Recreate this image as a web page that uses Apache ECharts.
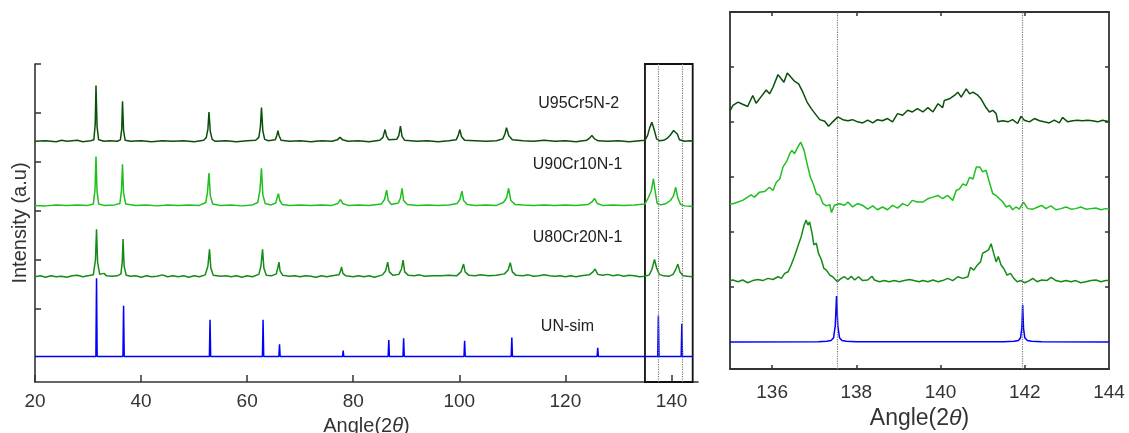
<!DOCTYPE html>
<html>
<head>
<meta charset="utf-8">
<script src="https://cdn.jsdelivr.net/npm/echarts@6/dist/echarts.min.js"></script>
<style>
  html, body { margin: 0; padding: 0; background: #fff; }
  #chart { width: 1129px; height: 433px; }
</style>
</head>
<body>
<div id="chart"></div>
<script>
// tick labels
const angleTicksWide = [20, 40, 60, 80, 100, 120, 140]
const angleTicksZoom = [136, 138, 140, 142, 144]
const refLines = [137.55, 141.95]

// simulated UN pattern: peak angle / relative height
const simPeakPos = [31.6, 36.7, 53.0, 63.0, 66.1, 78.1, 86.7, 89.5, 101.0, 109.9, 126.1, 137.53, 141.95]
const simPeakH = [1.60, 1.04, 0.75, 0.75, 0.25, 0.12, 0.34, 0.375, 0.32, 0.39, 0.18, 0.84, 0.67]

// measured patterns, full range [angle, intensity above baseline]
const u95Wide = [[20,0],[22,0.01],[24,-0.01],[25,0.02],[26,0],[28,0.02],[29,-0.01],[30.5,0.01],
  [31.1,0.03],[31.35,0.35],[31.5,1.14],[31.7,0.3],[32.0,0.03],[33,0],[34,0.01],[35.5,0],
  [36.1,0.03],[36.35,0.25],[36.5,0.82],[36.7,0.22],[37.0,0.02],[38,0],[40,0.01],[42,-0.01],[44,0.01],[46,0],[48,0.01],[50,-0.01],[51.8,0.02],
  [52.3,0.08],[52.6,0.25],[52.8,0.60],[53.05,0.2],[53.4,0.04],[54,0],[56,0.01],[58,-0.01],[60,0.01],[61.6,0.02],
  [62.2,0.08],[62.5,0.3],[62.7,0.69],[62.95,0.22],[63.3,0.04],[64,0.01],[65.3,0.03],[65.6,0.12],[65.8,0.22],[66.0,0.12],[66.4,0.02],
  [68,0],[70,0.01],[72,-0.01],[74,0.01],[76,0],[77,0.03],[77.5,0.08],[78,0.03],[79,0],[81,0.01],[83,-0.01],[85,0.02],
  [85.6,0.08],[86.0,0.24],[86.3,0.1],[86.7,0.03],[88.2,0.04],[88.6,0.12],[88.9,0.31],[89.2,0.1],[89.7,0.02],
  [92,0],[94,0.01],[96,-0.01],[98,0.01],[99.4,0.03],[99.8,0.12],[100.1,0.24],[100.4,0.1],[101,0.02],[103,0.01],[105,0],[107,0.01],
  [108.2,0.05],[108.6,0.15],[108.9,0.28],[109.3,0.12],[110,0.03],[112,0.01],[114,0],[116,0.02],[118,0],[120,0.01],[122,-0.01],[124,0.02],
  [124.6,0.07],[125.0,0.12],[125.5,0.05],[126.2,0.01],[128,0],[130,0.01],[132,-0.01],[134,0.01],[135,0.02],
  [135.5,0.12],[135.9,0.28],[136.3,0.39],[136.7,0.25],[137.2,0.05],[137.8,0.01],[138.5,0.02],[139.2,0.06],[139.8,0.13],
  [140.4,0.22],[140.7,0.25],[141.1,0.15],[141.5,0.03],[142.5,0],[143.5,0.01],[144,0]]

const u90Wide = [[20,0],[22,-0.01],[24,0.01],[26,0],[28,0.01],[30,0],[31.0,0.03],[31.3,0.3],[31.5,1.0],[31.7,0.28],[32.0,0.03],
  [33,0],[35,0.01],[36.0,0.04],[36.3,0.3],[36.5,0.84],[36.7,0.25],[37.1,0.03],[39,0],[41,0.01],[43,-0.01],[45,0.01],[47,0],[49,0.01],[51,0],
  [52.2,0.06],[52.5,0.25],[52.8,0.66],[53.05,0.2],[53.5,0.03],[55,0],[57,0.01],[59,-0.01],[61,0.01],
  [62.0,0.06],[62.4,0.3],[62.7,0.76],[62.95,0.22],[63.4,0.04],[64.5,0.01],[65.4,0.05],[65.7,0.18],[65.9,0.24],[66.15,0.1],[66.6,0.02],
  [68,0],[70,0.01],[72,0],[74,0.01],[76,0],[77.1,0.04],[77.6,0.12],[78.0,0.04],[79,0],[81,0.01],[83,0],
  [85.3,0.03],[85.9,0.12],[86.3,0.31],[86.6,0.1],[87.2,0.02],[88.5,0.05],[88.9,0.15],[89.2,0.35],[89.5,0.1],[90.2,0.02],
  [92,0],[94,0.01],[96,0],[98,0.01],[99.6,0.04],[100.1,0.12],[100.5,0.29],[100.8,0.1],[101.5,0.02],[103,0],[105,0.01],[107,0],
  [108.3,0.06],[108.9,0.15],[109.3,0.35],[109.7,0.1],[110.5,0.02],[112,0.01],[114,0],[116,0.01],[118,0],[120,0.01],[122,0],
  [124.3,0.02],[125.0,0.07],[125.5,0.14],[126.0,0.04],[127,0],[129,0.01],[131,0],[133,0.01],[135,0.03],
  [135.6,0.15],[136.2,0.3],[136.6,0.545],[136.9,0.3],[137.3,0.04],[138,0.01],[139,0.04],[139.8,0.1],[140.4,0.2],
  [140.8,0.37],[141.2,0.15],[141.7,0.02],[142.5,-0.01],[143.5,-0.02],[144,-0.02]]

const u80Wide = [[20,0],[21,0.02],[22,-0.01],[23,0.02],[24,0],[25,0.01],[26,-0.01],[27,0.02],[28,0.03],[29,0],[30,0.02],
  [31.0,0.04],[31.4,0.35],[31.6,0.97],[31.8,0.3],[32.2,0.05],[33.0,0.07],[33.5,0.02],[34.5,0.01],[35.5,0.02],
  [36.2,0.06],[36.45,0.3],[36.6,0.77],[36.8,0.22],[37.2,0.03],[38,0.01],[39,0.02],[40,-0.01],[41,0.02],[42,0],[43,0.01],[44,0.04],
  [45,0],[46,0.02],[47,0],[48,0.02],[49,-0.01],[50,0.02],[51,0],
  [52.1,0.04],[52.6,0.22],[52.9,0.56],[53.15,0.18],[53.6,0.03],[55,0.01],[56,0.02],[57,0],[58,0.02],[59,-0.01],[60,0.02],[61,0],
  [62.2,0.05],[62.6,0.22],[62.9,0.56],[63.15,0.18],[63.6,0.03],[64.6,0.02],[65.5,0.06],[65.8,0.2],[66.0,0.3],[66.2,0.12],[66.7,0.03],
  [68,0.01],[69,0.02],[70,0],[71,0.02],[72,0.01],[73,-0.01],[74,0.02],[75,0],[76,0.02],
  [77.3,0.04],[77.6,0.12],[77.8,0.2],[78.05,0.07],[78.6,0.02],[80,0],[81,0.02],[82,0],[83,0.02],[84,-0.01],
  [85.5,0.04],[86.1,0.12],[86.5,0.30],[86.8,0.1],[87.5,0.03],[88.6,0.05],[89.1,0.16],[89.4,0.34],[89.7,0.1],[90.4,0.03],
  [91.5,0.02],[92.5,0.04],[93.5,0.01],[95,0.02],[96.5,0.02],[98,0.03],[99.5,0.02],
  [100.3,0.1],[100.8,0.26],[101.1,0.1],[101.8,0.03],[103,0.02],[104,0.04],[105.5,0.02],[107,0.03],
  [108.5,0.06],[109.2,0.14],[109.6,0.29],[110,0.1],[110.7,0.03],[112,0.02],[113,0.04],[114,0.01],[115,0.02],[116,0.04],
  [117,0.02],[118,0.01],[119,0.02],[120,0],[121,0.02],[122,0],[123,0.02],
  [124.5,0.04],[125.2,0.1],[125.6,0.16],[126.1,0.05],[127,0.03],[128,0.05],[129,0.02],[130,0.04],[131,0.01],[132,0.03],[133,0.02],[134,0],[135,0.01],
  [135.8,0.04],[136.3,0.15],[136.8,0.355],[137.2,0.18],[137.7,0.05],[138.5,0.02],[139.5,0.01],
  [140.3,0.05],[140.8,0.15],[141.2,0.26],[141.6,0.1],[142.2,0.02],[143,0.01],[144,0]]

// measured patterns, zoomed 135-144 range
const u95Zoom = [[135.0,0.19],[135.07,0.29],[135.19,0.35],[135.3,0.31],[135.42,0.27],[135.54,0.47],[135.62,0.33],[135.74,0.45],
  [135.86,0.57],[135.94,0.5],[136.02,0.62],[136.14,0.85],[136.22,0.77],[136.28,0.71],[136.36,0.88],[136.45,0.8],[136.53,0.73],
  [136.63,0.68],[136.73,0.53],[136.83,0.35],[136.93,0.23],[137.02,0.14],[137.13,0.03],[137.25,0],[137.34,-0.09],[137.44,-0.01],
  [137.56,0.08],[137.68,0.03],[137.8,0.01],[137.91,0.03],[138.03,-0.01],[138.15,-0.03],[138.27,0.02],[138.39,-0.03],[138.5,0.03],
  [138.62,0.01],[138.74,0.05],[138.86,-0.01],[138.98,0.14],[139.1,0.11],[139.22,0.2],[139.33,0.17],[139.45,0.23],[139.58,0.17],
  [139.7,0.25],[139.82,0.17],[139.94,0.32],[140.05,0.25],[140.09,0.38],[140.21,0.41],[140.33,0.47],[140.41,0.53],[140.49,0.44],
  [140.61,0.59],[140.69,0.5],[140.77,0.53],[140.89,0.47],[140.96,0.41],[141.08,0.25],[141.16,0.17],[141.24,0.2],[141.32,0.14],
  [141.36,-0.01],[141.48,0.01],[141.6,-0.01],[141.71,0.03],[141.83,-0.04],[141.91,0.09],[141.99,0.02],[142.11,-0.01],[142.23,0.05],
  [142.35,0.01],[142.46,-0.01],[142.58,-0.03],[142.7,0.02],[142.82,-0.03],[142.9,0.07],[143.02,-0.01],[143.14,0.01],[143.25,0.02],
  [143.37,0.01],[143.49,0.02],[143.61,0.01],[143.73,-0.01],[143.85,0.02],[144.0,-0.01]]

const u90Zoom = [[135.0,0.03],[135.07,0.03],[135.19,0.06],[135.3,0.09],[135.42,0.15],[135.5,0.19],[135.58,0.15],[135.7,0.24],
  [135.82,0.25],[135.94,0.33],[136.02,0.27],[136.1,0.42],[136.18,0.48],[136.26,0.7],[136.34,0.79],[136.42,0.94],[136.47,1.0],
  [136.53,0.94],[136.61,1.06],[136.68,1.15],[136.76,1.0],[136.83,0.76],[136.91,0.51],[136.99,0.36],[137.05,0.21],[137.13,0.18],
  [137.21,0.03],[137.29,-0.01],[137.37,0.01],[137.41,-0.13],[137.48,0],[137.6,0.03],[137.72,0],[137.8,0.06],[137.91,-0.03],
  [138.03,0.03],[138.15,0],[138.27,-0.07],[138.39,-0.01],[138.5,-0.08],[138.62,-0.03],[138.74,-0.08],[138.86,0],[138.98,-0.05],
  [139.1,0.03],[139.22,-0.01],[139.33,0.09],[139.45,0.06],[139.58,0.06],[139.7,0.12],[139.82,0.15],[139.94,0.18],[140.05,0.12],
  [140.17,0.18],[140.29,0.09],[140.37,0.27],[140.45,0.3],[140.53,0.39],[140.61,0.36],[140.69,0.51],[140.77,0.48],[140.85,0.7],
  [140.93,0.7],[141.0,0.61],[141.08,0.64],[141.16,0.42],[141.24,0.21],[141.32,0.18],[141.4,0.12],[141.48,0.06],[141.56,-0.03],
  [141.64,0],[141.71,-0.08],[141.79,-0.03],[141.87,-0.07],[141.97,0.06],[142.07,-0.06],[142.19,-0.07],[142.31,-0.03],[142.4,0],
  [142.5,-0.06],[142.62,-0.01],[142.74,-0.08],[142.86,-0.06],[142.98,-0.03],[143.1,-0.07],[143.21,-0.06],[143.33,-0.03],
  [143.45,-0.07],[143.57,-0.06],[143.69,-0.05],[143.81,-0.08],[143.92,-0.06],[144.0,-0.07]]

const u80Zoom = [[135.0,0],[135.07,0.01],[135.19,-0.02],[135.3,0.01],[135.42,-0.04],[135.54,0],[135.66,0.02],[135.78,0],
  [135.9,0.04],[136.02,0.02],[136.14,0.07],[136.22,0.04],[136.3,0.13],[136.38,0.16],[136.45,0.28],[136.53,0.44],[136.61,0.62],
  [136.69,0.8],[136.76,1.01],[136.81,1.1],[136.85,1.01],[136.89,1.07],[136.95,0.86],[136.99,0.65],[137.05,0.68],[137.1,0.5],
  [137.17,0.38],[137.23,0.22],[137.29,0.19],[137.37,0.1],[137.44,0.07],[137.55,-0.02],[137.64,0.04],[137.72,0.07],[137.8,0.02],
  [137.88,0.08],[137.96,0.01],[138.05,0.07],[138.15,0],[138.27,0.01],[138.37,0.08],[138.43,0.01],[138.55,-0.02],[138.66,0],
  [138.78,-0.02],[138.9,0],[139.02,-0.02],[139.14,0],[139.26,0.02],[139.37,0],[139.49,-0.02],[139.58,0],[139.7,-0.02],[139.82,0.01],
  [139.94,-0.02],[140.05,0],[140.17,0.04],[140.29,0],[140.41,0.07],[140.53,0.04],[140.65,0.07],[140.71,0.24],[140.79,0.19],
  [140.87,0.28],[140.95,0.34],[141.0,0.5],[141.08,0.53],[141.14,0.56],[141.2,0.67],[141.26,0.5],[141.32,0.34],[141.37,0.44],
  [141.44,0.28],[141.5,0.22],[141.58,0.1],[141.66,0.13],[141.74,0.04],[141.82,-0.02],[141.91,0],[142.0,-0.04],[142.11,0],
  [142.19,0.04],[142.29,-0.02],[142.4,0.01],[142.52,0],[142.63,0.06],[142.74,0],[142.86,-0.02],[142.98,0],[143.1,-0.02],
  [143.21,0],[143.33,-0.04],[143.45,-0.02],[143.57,0],[143.69,0.01],[143.81,-0.02],[143.92,0],[144.0,0]]

const unZoom = [[135,0],[137.1,0.005],[137.3,0.015],[137.4,0.03],[137.46,0.08],[137.5,0.3],[137.53,0.84],[137.56,0.3],[137.6,0.08],
  [137.66,0.03],[137.76,0.015],[138,0.005],[141.5,0.005],[141.75,0.015],[141.85,0.03],[141.9,0.08],[141.93,0.25],[141.95,0.68],
  [141.97,0.25],[142.0,0.08],[142.06,0.03],[142.16,0.015],[142.4,0.005],[144,0]]

// layout: vertical offsets of each trace
const wideOffset = { u95: 4.92, u90: 3.61, u80: 2.15, un: 0.52 }
const zoomOffset = { u95: 4.51, u90: 2.98, u80: 1.61, un: 0.49 }

const colors = { u95: '#0a4f0a', u90: '#1fbf1f', u80: '#168a16', un: '#0000ff' }
const FONT = 'Arial, "Liberation Sans", sans-serif'
const AXIS = '#333'

const shift = (pts, off) => pts.map(p => [p[0], p[1] + off])

const simWide = [[20, 0]]
simPeakPos.forEach((p, i) => {
    simWide.push([p - 0.12, 0], [p, simPeakH[i]], [p + 0.12, 0])
})
simWide.push([144, 0])

const line = (name, data, color, xi, yi, extra) => Object.assign({
    name,
    type: 'line',
    data,
    xAxisIndex: xi,
    yAxisIndex: yi,
    showSymbol: false,
    symbol: 'none',
    lineStyle: { color, width: 1.5 },
    itemStyle: { color },
    animation: false,
    silent: true,
    z: 3
}, extra || {})

const tag = (text, x, y) => ({
    markPoint: {
        silent: true,
        animation: false,
        data: [{
            coord: [x, y],
            symbolSize: 0,
            label: { show: true, formatter: text, color: '#222', fontSize: 16, fontFamily: FONT, offset: [0, 1] }
        }]
    }
})

const vLines = {
    symbol: ['none', 'none'],
    silent: true,
    animation: false,
    label: { show: false },
    lineStyle: { color: '#7a7a7a', type: 'dotted', width: 1.2 },
    data: refLines.map(v => ({ xAxis: v }))
}

const nameStyle = (size) => ({
    fontSize: size,
    color: '#333',
    fontFamily: FONT,
    rich: { i: { fontSize: size, fontStyle: 'italic', color: '#333', fontFamily: FONT } }
})

const option = {
    backgroundColor: '#fff',
    grid: [
        { left: 35, top: 64, width: 663, height: 318, outerBoundsMode: 'none' },
        { left: 730, top: 12, width: 379, height: 357, outerBoundsMode: 'none' }
    ],
    xAxis: [
        {
            gridIndex: 0, type: 'value', min: 20, max: 145,
            name: 'Angle(2{i|θ})', nameLocation: 'middle', nameGap: 34,
            nameTextStyle: nameStyle(20),
            axisLine: { show: true, onZero: false, lineStyle: { color: AXIS, width: 1.6 } },
            axisTick: { show: true, inside: true, length: 7, customValues: angleTicksWide, lineStyle: { color: AXIS, width: 1.5 } },
            axisLabel: { customValues: angleTicksWide, fontSize: 19, color: '#333', fontFamily: FONT, margin: 10 },
            splitLine: { show: false }
        },
        {
            gridIndex: 1, type: 'value', min: 135, max: 144,
            name: 'Angle(2{i|θ})', nameLocation: 'middle', nameGap: 37,
            nameTextStyle: nameStyle(23),
            axisLine: { show: true, onZero: false, lineStyle: { color: AXIS, width: 1.8 } },
            axisTick: { show: true, inside: true, length: 4, customValues: [136, 138, 140, 142], lineStyle: { color: AXIS, width: 1.5 } },
            axisLabel: { customValues: angleTicksZoom, fontSize: 19, color: '#333', fontFamily: FONT, margin: 14 },
            splitLine: { show: false }
        },
        {
            gridIndex: 1, type: 'value', min: 135, max: 144, position: 'top',
            axisLine: { show: true, onZero: false, lineStyle: { color: AXIS, width: 1.8 } },
            axisTick: { show: true, inside: true, length: 4, customValues: [136, 138, 140, 142], lineStyle: { color: AXIS, width: 1.5 } },
            axisLabel: { show: false },
            splitLine: { show: false }
        }
    ],
    yAxis: [
        {
            gridIndex: 0, type: 'value', min: 0, max: 6.5,
            name: 'Intensity (a.u)', nameLocation: 'middle', nameGap: 5,
            nameTextStyle: { fontSize: 20, color: '#333', fontFamily: FONT },
            axisLine: { show: true, onZero: false, lineStyle: { color: AXIS, width: 1.6 } },
            axisTick: { show: true, inside: true, length: 6, customValues: [1.5, 2.5, 3.5, 4.5, 5.5, 6.5], lineStyle: { color: AXIS, width: 1.5 } },
            axisLabel: { show: false },
            splitLine: { show: false }
        },
        {
            gridIndex: 1, type: 'value', min: 0, max: 6.5,
            axisLine: { show: true, onZero: false, lineStyle: { color: AXIS, width: 1.8 } },
            axisTick: { show: true, inside: true, length: 4, customValues: [1.5, 2.5, 3.5, 4.5, 5.5], lineStyle: { color: AXIS, width: 1.5 } },
            axisLabel: { show: false },
            splitLine: { show: false }
        },
        {
            gridIndex: 1, type: 'value', min: 0, max: 6.5, position: 'right',
            axisLine: { show: true, onZero: false, lineStyle: { color: AXIS, width: 1.8 } },
            axisTick: { show: true, inside: true, length: 4, customValues: [1.5, 2.5, 3.5, 4.5, 5.5], lineStyle: { color: AXIS, width: 1.5 } },
            axisLabel: { show: false },
            splitLine: { show: false }
        }
    ],
    series: [
        line('UN-sim', shift(simWide, wideOffset.un), colors.un, 0, 0, Object.assign(tag('UN-sim', 120.4, 1.16), {
            markLine: vLines,
            markArea: {
                silent: true,
                itemStyle: { color: 'rgba(0,0,0,0)', borderColor: '#111', borderWidth: 1.8 },
                data: [[{ xAxis: 135, yAxis: 0 }, { xAxis: 144, yAxis: 6.5 }]]
            }
        })),
        line('U80Cr20N-1', shift(u80Wide, wideOffset.u80), colors.u80, 0, 0, tag('U80Cr20N-1', 122.3, 2.97)),
        line('U90Cr10N-1', shift(u90Wide, wideOffset.u90), colors.u90, 0, 0, tag('U90Cr10N-1', 122.3, 4.47)),
        line('U95Cr5N-2', shift(u95Wide, wideOffset.u95), colors.u95, 0, 0, tag('U95Cr5N-2', 122.5, 5.72)),

        line('UN-sim', shift(unZoom, zoomOffset.un), colors.un, 1, 1, { markLine: vLines }),
        line('U80Cr20N-1', shift(u80Zoom, zoomOffset.u80), colors.u80, 1, 1),
        line('U90Cr10N-1', shift(u90Zoom, zoomOffset.u90), colors.u90, 1, 1),
        line('U95Cr5N-2', shift(u95Zoom, zoomOffset.u95), colors.u95, 1, 1)
    ]
}

const chart = echarts.init(document.getElementById('chart'), null, { renderer: 'canvas' })
chart.setOption(option)
</script>
</body>
</html>
